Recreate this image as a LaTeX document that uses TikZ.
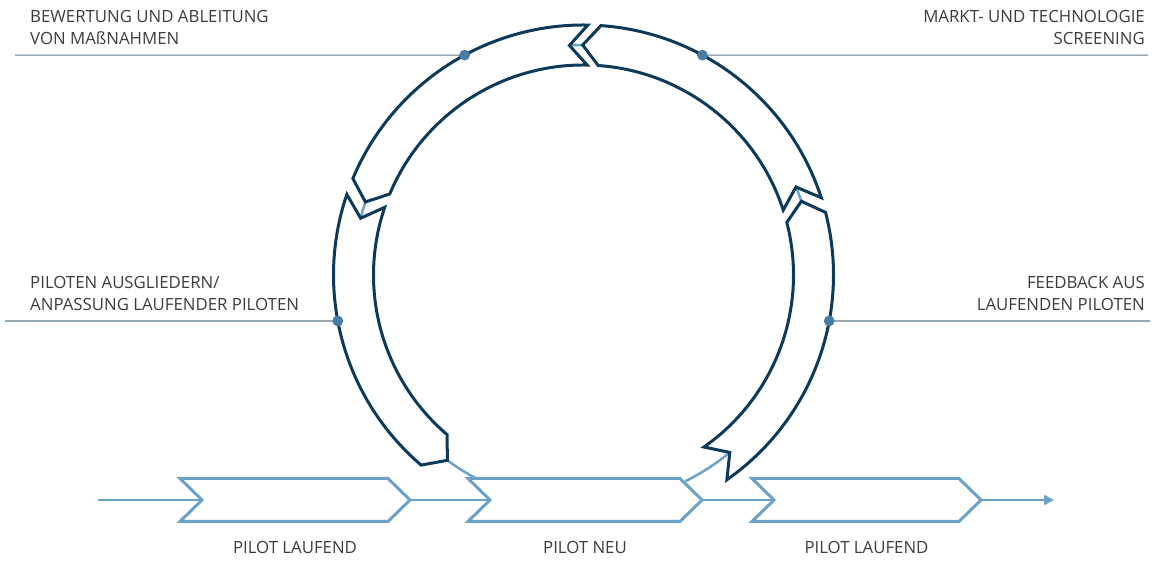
\documentclass[tikz,border=0pt]{standalone}
\usepackage{fontspec}
\setmainfont{Open Sans}
\usetikzlibrary{arrows.meta,calc}
\definecolor{ringdark}{RGB}{12,58,88}
\definecolor{lightblue}{RGB}{108,162,200}
\definecolor{dotblue}{RGB}{74,125,165}
\definecolor{guide}{RGB}{100,120,142}
\definecolor{txt}{RGB}{60,60,60}
\newcommand\ringpiece[2]{%
  \path[ring] ($(C)+(#1:250)$) arc[start angle=#1, end angle=#2, radius=250]
    -- ($(C)+({#2+4.2}:230)$) -- ($(C)+(#2:210)$)
    arc[start angle=#2, end angle=#1, radius=210]
    -- ($(C)+({#1+4.5}:230)$) -- cycle;}
\newcommand\chevronshape[3]{%
  \path[chev] (#2,82.5) -- (#3,82.5) -- ({#3+22},61) -- (#3,39.5) -- (#2,39.5) -- ({#2+22},61) -- cycle;
  \coordinate (#1-in) at ({#2+22},61);
  \coordinate (#1-out) at ({#3+22},61);
  \coordinate (#1-mid) at ({(#2+#3+22)/2},61);}
\begin{document}
\begin{tikzpicture}[x=1pt,y=1pt,
  ring/.style={draw=ringdark, line width=3pt, line join=miter, miter limit=4, fill=white},
  link/.style={draw=lightblue, line width=2.5pt},
  chev/.style={draw=lightblue, line width=3pt, line join=miter, fill=white},
  guideline/.style={draw=guide, line width=1.1pt},
  dot/.style={circle, fill=dotblue, inner sep=0pt, minimum size=10.5pt},
  lbl/.style={font=\fontsize{16.8}{22.3}\selectfont, text=txt, inner sep=0pt},
]
\useasboundingbox (0,0) rectangle (1152,561);
\coordinate (C) at (583.5,286);

% connector end points on the ring midline
\coordinate (t1) at ($(C)+(18.7:230)$);
\coordinate (t2) at ($(C)+(90.2:230)$);
\coordinate (t3) at ($(C)+(161.5:230)$);
\coordinate (t4) at ($(C)+(233.7:230)$);
\coordinate (n5) at ($(C)+(-63.7:230)$);

% light blue links
\draw[link] (t1) arc[start angle=18.7, end angle=22.5, radius=230];
\draw[link] (t2) arc[start angle=90.2, end angle=93.5, radius=230];
\draw[link] (t3) arc[start angle=161.5, end angle=165.7, radius=230];
\draw[link] (t4) arc[start angle=233.7, end angle=241.97, radius=230];
\draw[link] (n5) arc[start angle=-63.7, end angle=-50.5, radius=230];

% ring pieces
\ringpiece{-55}{14.5}
\ringpiece{18}{86}
\ringpiece{89}{157.3}
\ringpiece{161.2}{229.5}

% chevrons
\chevronshape{c1}{180}{388}
\chevronshape{c2}{468}{680}
\chevronshape{c3}{752}{959}
\coordinate (start) at (98,61);
\coordinate (end) at (1054,61);
\draw[link] (start) -- (c1-in);
\draw[link] (c1-out) -- (c2-in);
\draw[link] (c2-out) -- (c3-in);
\draw[link, -{Triangle[length=10pt,width=10pt]}] (c3-out) -- (end);

% guide lines and dots
\node[dot] (d1) at ($(C)+(118.4:250)$) {};
\node[dot] (d2) at ($(C)+(61.6:250)$) {};
\node[dot] (d3) at ($(C)+(190.6:250)$) {};
\node[dot] (d4) at ($(C)+(-10.6:250)$) {};
\coordinate (g1) at (15,505.9);
\coordinate (g2) at (1148,505.9);
\coordinate (g3) at (5,240);
\coordinate (g4) at (1150,240);
\draw[guideline] (g1) -- (d1.center);
\draw[guideline] (d2.center) -- (g2);
\draw[guideline] (g3) -- (d3.center);
\draw[guideline] (d4.center) -- (g4);
\node[dot] at (d1) {};
\node[dot] at (d2) {};
\node[dot] at (d3) {};
\node[dot] at (d4) {};

% texts (base anchor = baseline of the last line)
\node[lbl, anchor=base west, align=left] (tl) at (30,516) {BEWERTUNG UND ABLEITUNG\\VON MAßNAHMEN};
\node[lbl, anchor=base east, align=right] (tr) at (1145,516) {MARKT- UND TECHNOLOGIE\\SCREENING};
\node[lbl, anchor=base west, align=left] (ml) at (30,250) {PILOTEN AUSGLIEDERN/\\ANPASSUNG LAUFENDER PILOTEN};
\node[lbl, anchor=base east, align=right] (mr) at (1145,250) {FEEDBACK AUS\\LAUFENDEN PILOTEN};
\node[lbl, anchor=base] (p1) at ($(c1-mid)+(0,-54)$) {PILOT LAUFEND};
\node[lbl, anchor=base] (p2) at ($(c2-mid)+(0,-54)$) {PILOT NEU};
\node[lbl, anchor=base] (p3) at ($(c3-mid)+(0,-54)$) {PILOT LAUFEND};
\end{tikzpicture}
\end{document}
